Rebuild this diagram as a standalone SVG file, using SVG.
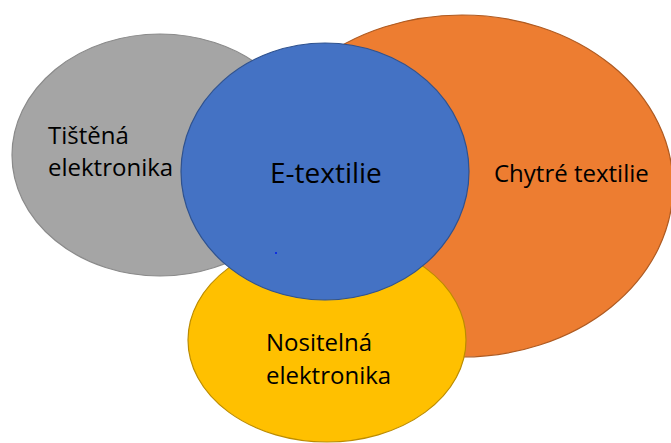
<svg xmlns="http://www.w3.org/2000/svg" width="671" height="443" viewBox="0 0 671 443">
<style>
text{font-family:"Open Sans","Noto Sans","Liberation Sans",sans-serif;fill:#000;}
.s{font-size:24px;}
.b{font-size:28px;}
</style>
<rect width="671" height="443" fill="#fff"/>
<g id="tistena">
<ellipse cx="160" cy="155" rx="148" ry="121" fill="#A5A5A5" stroke="#8A8A8A" stroke-width="1.2"/>
<text class="s" x="48" y="144">Tištěná</text>
<text class="s" x="48" y="176">elektronika</text>
</g>
<g id="chytre">
<ellipse cx="462" cy="186" rx="211" ry="171" fill="#ED7D31" stroke="#AE5A21" stroke-width="1.2"/>
<text class="s" x="494" y="182">Chytré textilie</text>
</g>
<g id="nositelna">
<ellipse cx="327" cy="340" rx="139" ry="102" fill="#FFC000" stroke="#BC8C00" stroke-width="1.2"/>
<text class="s" x="266" y="351">Nositelná</text>
<text class="s" x="266" y="384">elektronika</text>
</g>
<g id="etextilie">
<ellipse cx="325" cy="171.5" rx="144" ry="128.5" fill="#4472C4" stroke="#2F528F" stroke-width="1.2"/>
<text class="b" x="270" y="183">E-textilie</text>
<rect x="275" y="252" width="2" height="2" fill="#1030E0"/>
</g>
<g id="connectors"></g>
</svg>
